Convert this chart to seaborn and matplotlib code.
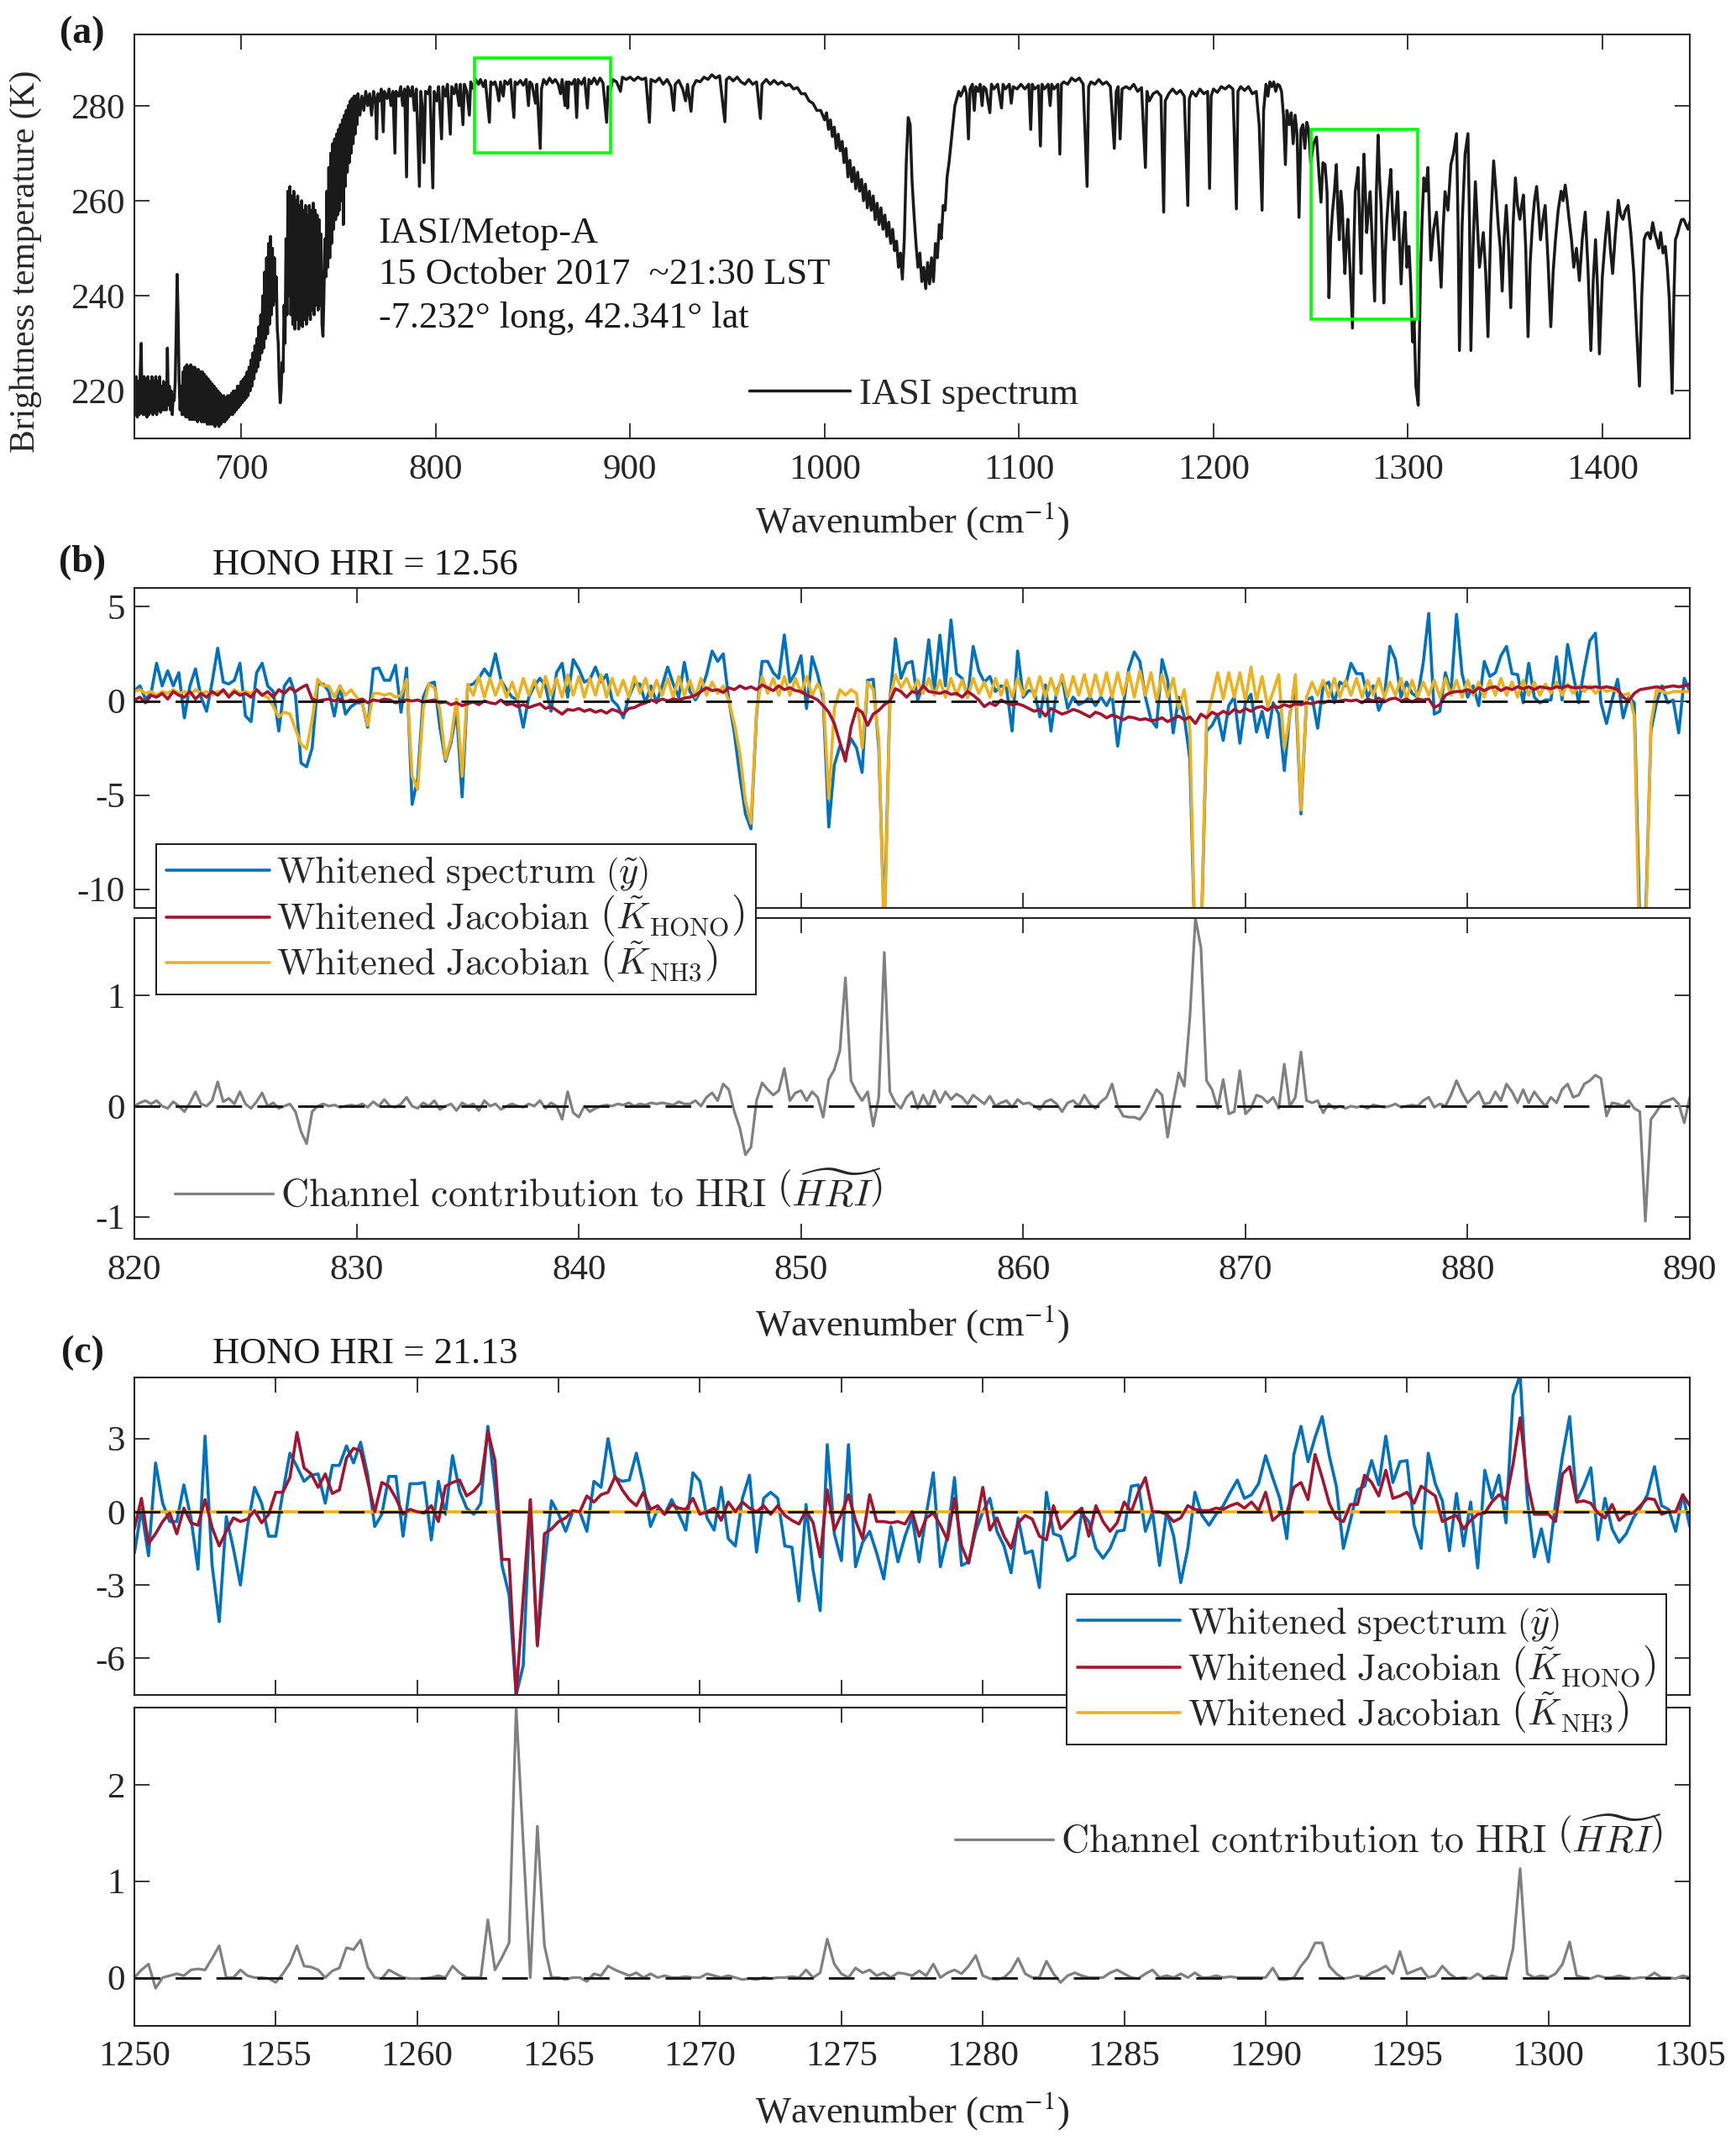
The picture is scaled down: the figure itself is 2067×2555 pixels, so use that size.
import numpy as np
import matplotlib
matplotlib.use("Agg")
import matplotlib.pyplot as plt
from matplotlib.patches import Rectangle
from matplotlib.font_manager import FontProperties
import seaborn as sns

# ---------------- panel (a): IASI brightness-temperature spectrum ----------------
# CO2 band 645-700 cm-1, 0.5 cm-1 samples
a_co2_start = 645.0
a_co2_bt = [222, 215, 223, 214.5, 222, 215, 224, 230, 216, 215, 223, 215, 222.5, 214.5, 223, 215, 222, 215.5, 223, 215,
            222, 215.5, 223, 215, 222, 216, 223, 215.5, 221, 216, 222, 216, 221, 216, 229, 217, 221, 216, 220, 215,
            219, 218, 222, 232, 244.5, 236, 222, 216, 221, 215, 224, 215, 225, 214.5, 225.5, 214.5, 225, 214, 225.5, 214,
            225, 214, 225, 214, 224.5, 213.5, 224.5, 214, 224, 213.5, 224, 213.5, 223.5, 213.5, 223, 213, 222.5, 213, 222, 213,
            221.5, 213, 221, 212.5, 220.5, 213, 220, 212.5, 219.5, 213, 219, 213.5, 219, 213.5, 218.5, 214, 219, 214.5, 219, 215,
            219.5, 215, 220, 215.5, 220, 216, 221, 216.5, 221, 217, 222]
# 700.5-760 cm-1, 0.5 cm-1 samples
a_co2b_start = 700.5
a_co2b_bt = [217.5, 222.5, 218, 223, 218.5, 224, 219, 225, 220, 226.5, 221, 228, 222.5, 229.5, 224, 231, 225, 233.5, 226.5, 236,
             228, 240, 229, 245, 231, 248, 232, 251, 234, 252.5, 236, 250, 238, 248, 239, 244, 233, 230, 222, 217.5,
             220, 226, 224, 238, 230, 252, 236, 262, 240, 263, 236, 261, 234, 262, 233, 260, 235, 261, 233, 259,
             234, 260, 233.5, 258, 235, 259, 234, 257, 236, 259, 235, 258, 237, 259.5, 236, 258, 238, 257, 237, 256,
             238, 253, 234, 231.5, 240, 252, 244, 262, 246, 267, 248, 270, 251, 272, 254, 273, 256, 274, 257, 275,
             258, 276, 260, 277, 255, 278, 263, 279, 266, 280, 268, 281, 270, 281.5, 272, 282, 274, 282, 276, 282.5]

a_win_pts = [(761, 278), (762, 282), (763, 279), (764, 283), (765, 280), (766, 282.5), (767, 278), (768, 283),
             (769, 281), (769.6, 273), (770.2, 282.5), (771, 281), (772, 283.5), (773, 274.5), (773.6, 283),
             (775, 281.5), (776, 283.5), (777, 280), (778, 283), (779, 270), (779.6, 283), (781, 282), (782, 284),
             (783, 280), (784, 283.5), (785, 265), (785.6, 284), (787, 282), (788, 284), (789, 279), (790, 283.5),
             (791.6, 263), (792.3, 283), (793, 280), (794, 268), (794.7, 283), (796, 282.5), (797, 284),
             (798.5, 262.7), (799.2, 283), (800.5, 281), (801.5, 284), (803, 273), (803.7, 284), (805, 282),
             (806, 284.5), (807.5, 274), (808.2, 284), (809.5, 282.5), (810.5, 284.5), (812, 280), (812.7, 284.5),
             (814, 276), (814.7, 284.5), (816, 283), (817.3, 278), (818, 285), (819.5, 283.5), (820.5, 285.5),
             (822, 284.5), (823, 285.5), (824.5, 284), (825.5, 285.3), (827.6, 276.5), (828.3, 285), (829.5, 284.5),
             (830.5, 285), (831.5, 283.5), (832.5, 281), (833.3, 285), (834.75, 282), (835.5, 285.2),
             (837, 284.5), (838.5, 285.5), (840.2, 277.5), (840.8, 285), (842, 284.5), (843.5, 285.3), (845, 284.3),
             (846.5, 285.5), (847.7, 280), (848.4, 285), (849.5, 284.5), (851.3, 280.5), (852, 284.5),
             (853.75, 271), (854.4, 283.5), (855.5, 285.5), (857, 284.5), (858.5, 285.8), (860, 284.8),
             (861.5, 285.5), (863, 284.5), (864.2, 282.5), (865, 285.5), (866.5, 280), (867.2, 285),
             (867.8, 279.5), (868.5, 285), (870, 284.5), (871.5, 285.5), (872.5, 277.5), (873.2, 285.5),
             (875, 284.5), (876.5, 285.8), (878, 279.5), (878.8, 285.5), (880, 284.6), (881.5, 285.8), (883, 284.5),
             (884.5, 285.8), (886, 284.8), (887.9, 276.5), (888.6, 284), (890, 283.5), (891, 285.5), (893, 285),
             (895, 283), (896, 286), (898, 285.5), (900, 286), (902, 285.3), (904, 286), (906, 285.5), (908, 285.8),
             (909.9, 276.5), (910.7, 285.5), (913, 285), (915, 285.8), (917, 284.5), (919, 285.5), (921, 284),
             (922.4, 279), (923.2, 284.5), (925, 285.3), (927, 283.5), (928.5, 281), (929.5, 284.5), (931.3, 278.8),
             (932.3, 284), (934, 285.3), (936, 285), (938, 286), (940, 285.5), (942, 286.5), (944, 285.8),
             (946, 286.3), (948.7, 276.6), (949.5, 285.5), (951, 286), (953, 285.2), (955, 286), (957, 285),
             (959, 284.5), (961, 285.5), (963, 284.5), (965, 285), (967, 277.3), (967.8, 284.5), (970, 285.5),
             (972, 284.5), (974, 285.3), (976, 284.5), (978, 285), (980, 284.2), (982, 284.5), (984, 283.5),
             (986, 283.8), (988, 282.5), (990, 282.5), (992, 281), (994, 280.5), (996, 279), (998, 279), (1000, 277)]

a_o3_pts = [(1001, 278.5), (1002, 275), (1003, 277), (1004, 273.5), (1005, 275.5), (1006, 271), (1007, 274),
            (1008, 270.5), (1009, 272.5), (1010, 268), (1011, 271), (1012, 265), (1013, 268.5), (1014, 264),
            (1015, 267), (1016, 262.5), (1017, 266), (1018, 262), (1019, 264.5), (1020, 260), (1021, 263.5),
            (1022, 258.5), (1023, 262), (1024, 258), (1025, 261), (1026, 256), (1027, 259.5), (1028, 255),
            (1029, 258.5), (1030, 254), (1031, 257), (1032, 252.5), (1033, 255.5), (1034, 251), (1035, 254),
            (1036, 249.5), (1037, 251.5), (1038, 246), (1039, 249), (1040, 243.5), (1041, 252), (1042, 268),
            (1043, 277.5), (1044, 276), (1045, 264), (1046, 257), (1047, 251), (1048, 246), (1049, 249),
            (1050, 243), (1051, 246), (1052, 241.5), (1053, 247), (1054, 242.5), (1055, 248), (1056, 243),
            (1057, 251), (1058, 248), (1059, 255), (1060, 252), (1061, 259), (1062, 258), (1063, 265),
            (1064, 268), (1065, 272), (1066, 276), (1067, 280), (1068, 281.5), (1069, 283), (1070, 282)]

a_win2_pts = [(1072, 284), (1073, 282.5), (1074, 273), (1074.8, 283.5), (1076, 284.5), (1077, 279), (1077.8, 284),
              (1079, 283), (1080, 284.5), (1081, 280), (1081.8, 284), (1083, 283.5), (1085, 278.5), (1085.8, 284.5),
              (1087, 283.5), (1089, 284.5), (1091, 279.5), (1091.8, 284.5), (1093, 283.5), (1095, 284.5),
              (1096, 280.5), (1097, 284), (1099, 283.5), (1101, 284.5), (1103, 283.5), (1105, 284.5), (1106, 275),
              (1106.8, 284.5), (1108, 283.5), (1110, 284.2), (1111, 271.5), (1111.8, 284.5), (1113, 283.5),
              (1115, 284.5), (1116, 280), (1116.8, 284.5), (1118, 283.5), (1120, 284.5), (1121, 269.8),
              (1121.8, 284.5), (1123, 285), (1125, 284.5), (1127, 285.8), (1129, 285.2), (1131, 285.8),
              (1133, 284.5), (1135, 263), (1135.8, 284), (1137, 285), (1139, 284.5), (1141, 285.5), (1143, 284.5),
              (1145, 285), (1147, 284), (1149, 271), (1150, 283), (1151, 284), (1152, 273), (1153, 283.5),
              (1155, 284), (1157, 283.5), (1159, 284.5), (1161, 283), (1163, 283.8), (1165, 267), (1165.8, 283),
              (1167, 281), (1169, 282.5), (1171, 283), (1173, 282), (1174.4, 257.6), (1175.2, 281), (1177, 282.5),
              (1179, 283.5), (1181, 282.5), (1183, 283.2), (1185, 282), (1186.8, 259), (1187.6, 281.5),
              (1189, 283), (1191, 282), (1193, 283.5), (1195, 282.5), (1197, 283), (1198, 262.6), (1198.8, 282),
              (1200, 283.5), (1202, 282.8), (1204, 284), (1206, 283.5), (1208, 284.2), (1210, 283.5),
              (1211.8, 258.3), (1212.6, 283), (1214, 284), (1216, 283.2), (1218, 284), (1220, 282.5), (1222, 283),
              (1223.5, 276), (1225, 258), (1225.8, 279), (1227, 284.5), (1228, 282), (1229, 285), (1230, 284),
              (1231, 285), (1232, 283), (1233, 284.5), (1234, 284.2), (1235, 283), (1236, 278), (1237, 267.6),
              (1237.8, 279), (1239, 276), (1240, 278.5), (1241, 272), (1242, 278), (1243, 274), (1244, 256.5),
              (1245, 275), (1246, 276), (1247, 271), (1248, 276.5), (1249, 274.8)]

a_h2o_pts = [(1250, 268), (1251.5, 272), (1253, 273.4), (1254.2, 266), (1255.3, 259.7), (1256.3, 268),
             (1257.4, 267.6), (1258.4, 262), (1259.4, 239.6), (1260.3, 252), (1261.2, 257.6), (1262.2, 262),
             (1263.2, 267.6), (1264.0, 258), (1264.7, 251.8), (1265.5, 262), (1266.2, 259), (1267.0, 250),
             (1267.6, 244.7), (1268.4, 252), (1269.1, 256.1), (1270.3, 245), (1271.5, 233.2), (1272.2, 250),
             (1272.9, 261.9), (1273.6, 264), (1274.4, 267), (1275.1, 256), (1275.9, 244.7), (1276.6, 258),
             (1277.4, 269.8), (1278.1, 262), (1278.8, 253.3), (1279.7, 258), (1280.6, 261.9), (1281.8, 250),
             (1282.9, 238.9), (1283.8, 262), (1284.7, 273.8), (1285.4, 265), (1286.2, 259), (1286.9, 250),
             (1287.6, 238.5), (1288.4, 249), (1289.1, 255.4), (1290.2, 262), (1291.2, 266.6), (1292.0, 258),
             (1292.9, 251.8), (1293.8, 257), (1294.7, 261.9), (1295.6, 252), (1296.5, 242.5), (1297.5, 252),
             (1298.5, 257.6), (1299.5, 246), (1300.6, 250.4), (1301.5, 242), (1302.4, 230.3), (1303.2, 235),
             (1304.1, 221), (1305.3, 217), (1306.5, 244.7), (1307.3, 256), (1308.2, 264.8), (1309.2, 262),
             (1310.3, 267), (1311, 258), (1311.8, 247.5), (1313.2, 254), (1314.7, 257.6), (1316, 250),
             (1317.1, 241.8), (1318.1, 254), (1319.1, 261.9), (1320.6, 258), (1322.1, 267.6), (1323.5, 270),
             (1325, 274.1), (1325.8, 255), (1326.5, 228.5), (1327.9, 255), (1329.4, 269.8), (1330.9, 274.1),
             (1331.7, 255), (1332.4, 228.5), (1333.5, 250), (1334.7, 264), (1336.8, 246), (1338.8, 253.3),
             (1340, 245), (1341.2, 231.4), (1342.6, 255), (1344.1, 268.4), (1345.3, 262), (1346.5, 254.7),
             (1347.5, 250), (1348.5, 241), (1349.5, 252), (1350.6, 259), (1351.8, 250), (1352.9, 237.5),
             (1354.1, 255), (1355.3, 264.8), (1356.4, 259), (1357.6, 256.1), (1358.5, 259), (1359.4, 261.2),
             (1360.6, 250), (1361.8, 231.4), (1362.9, 247), (1364.1, 255.4), (1365.1, 260), (1366.2, 263),
             (1367.2, 258), (1368.2, 251.8), (1369.4, 256), (1370.6, 259), (1372, 248), (1373.5, 233.5),
             (1374.7, 245), (1375.9, 251.8), (1377.3, 258), (1378.8, 262), (1379.8, 260), (1380.9, 263.3),
             (1381.9, 260), (1382.9, 256.1), (1384.1, 252), (1385.3, 246), (1386.7, 250), (1388.2, 243.2),
             (1389.7, 252), (1391.2, 257.6), (1392.6, 246), (1394.1, 228.5), (1395.3, 243), (1396.5, 251.8),
             (1397.5, 242), (1398.5, 227.8), (1400, 244), (1401.5, 251.8), (1402.9, 257.6), (1404.1, 250),
             (1405.3, 244.7), (1406.7, 253), (1408.2, 260.1), (1409.4, 257), (1410.6, 256.1), (1411.9, 258),
             (1413.2, 259), (1414.7, 253), (1416.2, 244.7), (1417.6, 233), (1419.1, 221), (1420.3, 240),
             (1421.5, 251.8), (1422.5, 253), (1423.5, 253.3), (1424.7, 252), (1425.9, 255.4), (1427, 253),
             (1427.9, 251.8), (1429, 250), (1430, 253.3), (1431.2, 249), (1432.4, 250.4), (1433.4, 246),
             (1434.4, 239.6), (1435.9, 219.5), (1436.7, 238), (1437.6, 251.8), (1438.6, 253), (1439.7, 254.7),
             (1440.7, 256), (1441.8, 256.1), (1443, 255), (1444.1, 254), (1445, 255.5)]

a_xlim = [645, 1445]
a_ylim = [210, 295]
a_xticks = [700, 800, 900, 1000, 1100, 1200, 1300, 1400]
a_yticks = [220, 240, 260, 280]
a_box_b_bt = [270, 290]     # green box around window (b)
a_box_c_bt = [235, 275]     # green box around window (c)
a_info = ["IASI/Metop-A", "15 October 2017  ~21:30 LST", "-7.232\u00b0 long, 42.341\u00b0 lat"]

# ---------------- panel (b): 820-890 cm-1, 0.25 cm-1 channels ----------------
b_start, b_step = 820.0, 0.25
b_spec = [0.55, 0.8, 0.1, 0.4, 2.0, 0.8, 1.6, 0.8, 1.5, -0.9, 0.8, 1.7, 0.2, -0.55, 1.0, 2.8, 1.0, 0.9, 1.1, 2.0,
          -0.8, -1.1, 1.5, 2.0, 0.8, 0.5, -1.6, 0.8, 1.2, 0.3, -3.3, -3.5, -2.5, 0.9, 0.9, 0.5, -0.8, 0.8, -0.7, -0.3,
          -0.1, -0.1, -1.4, 1.7, 1.75, 1.1, 1.1, 1.9, -0.6, 1.75, -5.5, -4.1, 0.2, 0.9, 1.0, -1.4, -3.2, -2.2, -0.55, -5.1,
          0.8, 0.9, 1.2, 1.7, 1.3, 2.5, 1.1, 0.6, 0.2, 0.05, -1.4, 0.2, 0.8, 1.2, 0.8, -0.55, 1.5, 2.0, 0.2, 2.2,
          1.7, 1.0, 1.15, 1.8, 1.0, 1.4, 0.05, -0.25, -0.9, 0.2, 0.9, 0.9, -0.1, 0.8, -0.1, 0.8, 1.8, 0.9, 0.2, 2.05,
          0.5, 0.05, 0.55, 1.4, 2.65, 2.1, 2.5, 0.05, -1.7, -4.0, -6.0, -6.8, -0.7, 2.1, 2.1, 1.5, 1.2, 3.5, 1.0, 1.5,
          2.4, -0.4, 2.35, 1.4, 0.05, -6.7, -3.4, -2.4, -2.9, -2.0, -2.5, -3.8, 1.1, 1.15, -2.5, -12, 0.05, 3.3, 1.2, 2.0,
          2.1, 0.05, 0.8, 3.25, 0.5, 3.5, 0.8, 4.3, 1.45, 1.2, 0.2, 2.9, 1.6, 1.0, 1.3, 0.5, 0.8, 0.7, -1.6, 2.65,
          0.2, 0.55, 0.5, -0.85, 0.85, -1.6, 0.5, 1.2, -0.4, 0.2, -0.2, -0.05, 0.2, -0.25, 0.2, -0.25, 0.3, -2.4, -0.25, 1.7,
          2.6, 2.1, 0.2, -1.0, -1.4, 2.2, 1.1, -1.7, 0.2, -0.85, -3.1, -14, -13, -1.6, -1.3, -0.7, -2.1, -0.25, 0.2, -2.25,
          -0.1, 0.35, -1.65, -0.55, -1.95, -0.1, -0.7, -3.7, -0.7, 0.8, -6.0, 0.05, 0.2, -1.45, 0.8, 1.0, -0.1, 1.0, 0.8, 2.0,
          1.45, 1.45, 0.2, 0.8, -0.5, 0.2, 2.9, 2.2, 0.2, 1.0, 0.4, 0.2, 2.0, 4.65, -0.7, -0.55, 1.5, 0.4, 4.6, 1.45,
          0.2, 0.8, -0.25, 2.1, 1.3, 1.5, 2.4, 2.9, 1.45, 1.4, -0.1, 2.0, 0.2, -0.1, 0.05, 0.05, 2.35, 0.05, 3.0, 1.4,
          -0.1, 1.7, 3.2, 3.6, -0.1, -1.2, 0.05, 1.15, -0.9, 0.2, -0.1, -12, -12, -1.6, -0.1, 0.8, -0.1, 0.05, -1.7, 1.2,
          0.5]
b_hono = [0.05, 0.2, -0.1, 0.3, 0.2, 0.4, 0.1, 0.5, 0.3, 0.2, 0.5, 0.1, 0.4, 0.2, 0.5, 0.3, 0.6, 0.2, 0.5, 0.3,
          0.4, 0.2, 0.6, 0.3, 0.5, 0.2, 0.6, 0.4, 0.7, 0.5, 0.7, 0.85, 0.1, 0.0, 0.05, 0.1, 0.0, 0.1, -0.05, 0.05,
          0.0, 0.1, -0.1, 0.05, 0.0, 0.1, 0.05, -0.1, 0.0, 0.05, 0.0, 0.05, -0.05, 0.0, 0.05, -0.1, -0.05, -0.2, -0.1, -0.25,
          -0.15, -0.05, -0.2, 0.0, -0.1, -0.15, 0.05, -0.2, -0.15, -0.3, -0.2, -0.35, -0.25, -0.15, -0.4, -0.3, -0.5, -0.7, -0.45, -0.5,
          -0.4, -0.55, -0.45, -0.6, -0.5, -0.65, -0.45, -0.55, -0.7, -0.4, -0.35, -0.2, -0.1, 0.05, -0.05, 0.1, 0.0, 0.1, 0.05, 0.15,
          0.2, 0.3, 0.5, 0.7, 0.55, 0.6, 0.45, 0.7, 0.6, 0.8, 0.65, 0.75, 0.6, 0.85, 0.7, 0.55, 0.8, 0.6, 0.7, 0.55,
          0.5, 0.3, 0.2, 0.05, -0.25, -0.6, -1.2, -2.2, -3.2, -1.4, -0.4, -0.6, -1.3, -0.7, -0.5, -0.2, 0.0, 0.65, 0.5, 0.2,
          0.5, 0.4, 0.8, 0.5, 0.45, 0.4, 0.5, 0.35, 0.4, 0.2, 0.5, 0.3, 0.05, -0.3, -0.1, -0.25, 0.05, -0.1, -0.2, -0.15,
          -0.25, -0.4, -0.55, -0.45, -0.8, -0.4, -0.55, -0.7, -0.6, -0.45, -0.55, -0.7, -0.85, -0.6, -0.7, -0.9, -0.75, -0.85, -1.0, -0.85,
          -0.9, -1.0, -0.95, -1.05, -1.0, -0.9, -1.1, -0.95, -0.8, -1.0, -0.85, -1.2, -0.7, -0.9, -0.6, -0.75, -0.55, -0.7, -0.45, -0.6,
          -0.4, -0.55, -0.35, -0.3, -0.5, -0.25, -0.35, -0.2, -0.3, -0.15, -0.2, -0.1, -0.15, -0.05, -0.1, 0.0, -0.05, 0.0, 0.05, 0.0,
          0.05, -0.1, 0.1, 0.0, 0.15, -0.05, 0.1, 0.15, 0.0, 0.1, -0.05, 0.1, 0.05, 0.1, -0.35, -0.2, 0.3, 0.45, 0.5, 0.5,
          0.6, 0.45, 0.7, 0.55, 0.7, 0.75, 0.55, 0.7, 0.6, 0.75, 0.65, 0.75, 0.6, 0.75, 0.7, 0.65, 0.75, 0.7, 0.8, 0.7,
          0.7, 0.75, 0.7, 0.75, 0.7, 0.75, 0.7, 0.6, 0.2, 0.0, 0.4, 0.6, 0.65, 0.7, 0.75, 0.7, 0.75, 0.8, 0.75, 0.8,
          0.9]
b_nh3 = [0.5, 0.6, 0.4, 0.5, 0.3, 0.5, 0.4, 0.6, 0.4, 0.5, 0.3, 0.6, 0.4, 0.5, 0.3, 0.5, 0.5, 0.3, 0.6, 0.4,
         0.5, 0.4, 0.6, 0.3, 0.2, -0.3, -0.85, -0.6, -0.7, -1.5, -2.3, -2.55, -1.0, 1.15, 0.8, 0.8, 0.2, 0.8, 0.3, 0.6,
         0.2, -0.1, -1.3, 0.4, 0.4, 0.3, 0.4, 0.2, 0.3, 1.15, -4.0, -4.7, -0.4, 0.9, 0.7, -0.5, -3.1, -2.0, 0.1, -4.0,
         0.9, 0.3, 1.3, 0.2, 1.2, 0.3, 1.1, 0.2, 1.0, 0.1, 1.2, 0.3, 1.1, 0.2, 1.3, 0.3, 1.2, 0.2, 1.4, 0.3,
         1.3, 0.2, 1.2, 0.3, 1.4, 0.2, 1.2, 0.3, 1.1, 0.2, 1.3, 0.4, 1.2, 0.2, 1.1, 0.3, 1.2, 0.2, 1.3, 0.3,
         1.1, 0.2, 1.2, 0.3, 1.0, 0.4, 0.8, 0.0, -1.2, -2.8, -5.3, -6.5, -0.5, 1.3, 0.4, 1.2, 0.3, 1.3, 0.3, 1.2,
         0.4, 1.3, 0.3, 0.9, 0.4, -5.2, -0.4, 0.6, 0.3, 0.6, 0.4, -2.5, 1.0, 0.6, -2.0, -13, 0.1, 1.4, 0.7, 1.2,
         0.5, 1.1, 0.4, 1.2, 0.3, 1.1, 0.2, 1.2, 0.3, 1.1, 0.2, 1.2, 0.4, 1.0, 0.2, 1.2, 0.3, 1.1, 0.2, 1.2,
         0.3, 1.2, 0.2, 1.3, 0.2, 1.2, 0.3, 1.4, 0.2, 1.3, 0.3, 1.4, 0.2, 1.4, 0.3, 1.5, 0.2, 1.5, 0.3, 1.5,
         0.2, 1.6, 0.3, 1.5, 0.0, 1.4, 0.2, 1.2, -0.4, 0.6, -1.5, -14, -13, -1.0, 0.2, 1.5, 0.1, 1.5, 0.2, 1.5,
         0.0, 1.8, 0.0, 1.3, -0.3, 0.5, 1.4, -2.5, -0.8, 1.4, -5.8, 0.2, 1.0, 0.3, 1.1, 0.2, 1.2, 0.2, 1.1, 0.3,
         1.2, 0.2, 1.1, 0.3, 1.2, 0.2, 1.0, 0.3, 1.2, 0.1, 1.1, 0.2, 1.0, 0.3, 1.1, 0.2, 1.2, 0.3, 1.1, 0.2,
         1.1, 0.3, 1.0, 0.2, 1.1, 0.3, 1.2, 0.3, 1.0, 0.2, 1.1, 0.3, 1.0, 0.3, 0.9, 0.4, 1.0, 0.3, 0.9, 0.4,
         0.8, 0.5, 0.8, 0.4, 0.7, 0.5, 0.6, 0.5, 0.3, 0.4, -0.8, -14, -13, -1.2, 0.6, 0.5, 0.4, 0.5, 0.5, 0.5,
         0.5]
b_hri = [0.0, 0.03, 0.05, 0.02, 0.05, 0.0, -0.02, 0.04, 0.0, -0.05, 0.03, 0.13, 0.02, 0.0, 0.05, 0.22, 0.04, 0.07, 0.02, 0.13,
         0.02, -0.02, 0.04, 0.12, 0.0, 0.03, -0.02, 0.0, 0.02, -0.05, -0.23, -0.34, -0.05, 0.0, 0.02, 0.0, 0.01, -0.01, 0.0, 0.01,
         0.0, 0.02, -0.01, 0.04, 0.0, 0.06, 0.0, -0.01, 0.02, 0.08, 0.0, -0.02, 0.03, 0.0, 0.05, -0.03, 0.0, 0.02, -0.04, 0.03,
         0.0, 0.02, -0.04, 0.05, 0.0, 0.02, -0.03, 0.0, 0.02, 0.0, -0.01, 0.02, 0.0, 0.05, -0.02, 0.03, 0.0, -0.12, 0.13, -0.06,
         -0.1, 0.0, -0.05, -0.02, 0.0, 0.01, 0.0, 0.02, 0.01, 0.03, 0.0, 0.02, 0.01, 0.03, 0.02, 0.03, 0.02, 0.01, 0.04, 0.02,
         0.02, 0.05, 0.0, 0.08, 0.12, 0.05, 0.2, 0.15, -0.05, -0.2, -0.44, -0.37, 0.05, 0.21, 0.15, 0.1, 0.14, 0.34, 0.05, 0.12,
         0.14, 0.05, 0.13, 0.08, -0.1, 0.24, 0.33, 0.5, 1.16, 0.23, 0.13, 0.05, 0.13, -0.18, 0.08, 1.39, 0.13, 0.03, -0.02, 0.08,
         0.13, -0.02, 0.1, 0.0, 0.14, 0.03, 0.13, 0.06, 0.11, 0.08, 0.02, 0.1, 0.06, 0.02, 0.09, 0.0, 0.03, 0.05, -0.01, 0.06,
         0.02, 0.03, 0.0, -0.03, 0.04, 0.06, 0.02, -0.05, 0.03, 0.05, 0.0, 0.1, 0.02, -0.02, 0.04, 0.08, 0.2, 0.0, -0.09, -0.1,
         -0.1, -0.12, -0.05, 0.05, 0.15, 0.1, -0.28, 0.03, 0.3, 0.18, 0.8, 1.7, 1.43, 0.23, 0.15, -0.02, 0.24, -0.07, -0.05, 0.32,
         -0.07, -0.02, 0.1, 0.08, 0.03, 0.08, -0.02, 0.38, 0.0, 0.08, 0.49, 0.05, 0.03, 0.05, -0.06, 0.02, -0.02, 0.0, -0.02, 0.0,
         -0.01, 0.0, -0.02, 0.01, 0.0, -0.01, 0.0, 0.02, -0.01, 0.0, 0.01, 0.0, 0.05, 0.08, -0.01, 0.02, 0.0, 0.1, 0.23, 0.12,
         0.03, 0.08, 0.13, 0.02, 0.03, 0.13, 0.05, 0.2, 0.13, 0.03, 0.15, 0.03, 0.13, 0.06, 0.0, 0.08, 0.03, 0.15, 0.2, 0.08,
         0.1, 0.2, 0.23, 0.28, 0.25, -0.09, 0.03, 0.02, 0.0, 0.05, -0.02, -0.05, -1.04, -0.12, -0.05, 0.03, 0.05, 0.07, 0.02, -0.15,
         0.08]
b_xlim = [820, 890]
b_ylim_top = [-11, 6]
b_ylim_bot = [-1.2, 1.7]
b_xticks = [820, 830, 840, 850, 860, 870, 880, 890]
b_yticks_top = [-10, -5, 0, 5]
b_yticks_bot = [-1, 0, 1]
b_hri_value = "12.56"

# ---------------- panel (c): 1250-1305 cm-1 ----------------
c_start, c_step = 1250.0, 0.25
c_spec = [-1.7, 0.1, -1.8, 2.0, 0.35, -0.4, -0.4, 1.1, -0.25, -2.35, 3.1, -2.2, -4.5, -0.2, -1.5, -3.0, -0.6, 1.0, 0.35, -1.0,
          -1.0, 0.8, 2.4, 1.85, 1.25, 1.5, 1.55, 0.35, 1.9, 1.9, 2.7, 2.0, 2.85, 1.5, -0.6, -0.1, 1.45, 1.45, -1.0, 1.15,
          1.15, 1.2, -1.15, 1.25, -0.1, 2.3, 0.85, 0.15, -0.1, 0.35, 3.5, 1.0, -2.2, -3.4, -7.5, -6.3, 0.45, -5.5, -2.2, 0.45,
          -0.1, -0.8, 0.0, 0.0, -0.8, 1.25, 1.0, 3.0, 1.4, 1.25, 1.3, 2.4, 1.1, -0.6, 0.1, -0.1, 0.5, -0.1, -0.75, 1.6,
          1.25, -0.25, -0.75, 1.0, -1.1, -1.4, 0.55, 1.5, -1.65, 0.55, 0.8, 0.55, -1.4, -1.45, -3.65, 0.3, -2.4, -4.05, 2.75, -0.9,
          -2.0, 2.75, -2.25, -1.25, -0.8, -1.7, -2.75, -0.6, -2.05, -1.0, -0.2, -2.05, -0.1, 1.6, -2.25, -1.0, 1.4, -2.2, -2.05, -0.8,
          0.0, 0.55, -0.8, -1.4, -2.5, -0.25, -1.7, -1.6, -3.1, 0.8, -0.9, -1.0, -2.0, -1.8, -0.05, -0.4, -1.5, -1.9, -1.5, -0.8,
          -0.75, 1.05, 1.1, -0.8, 0.0, -2.2, 0.0, -1.0, -2.9, -1.5, 0.8, -0.15, -0.55, -0.1, 0.25, 0.8, 1.3, 0.55, 0.7, 1.15,
          2.3, 1.4, 0.55, -1.1, 2.35, 3.5, 2.05, 3.05, 3.9, 2.3, 1.05, -1.5, -0.35, 0.9, 1.05, 2.1, 1.1, 3.1, 1.2, 2.05,
          2.1, -0.55, -1.5, 2.4, 1.15, 0.45, -1.6, 0.75, -1.4, 0.4, -2.3, 1.7, 0.55, 1.5, -0.45, 4.75, 5.6, 0.55, -1.85, -0.7,
          -2.05, 0.35, 2.3, 3.9, 0.45, 1.05, 1.8, -1.15, 0.55, -0.7, -1.25, -0.9, -0.25, 0.15, 0.7, 1.85, 0.25, 0.1, -0.8, 0.7,
          -0.6]
c_hono = [-0.7, 0.55, -1.3, -0.9, -0.4, -0.05, -0.9, 0.15, -0.45, -0.55, 0.5, -0.65, -1.4, -0.8, -0.25, -0.4, -0.3, 0.05, -0.45, -0.1,
          0.8, 0.8, 1.4, 3.25, 1.8, 1.55, 1.0, 1.55, 0.75, 0.9, 2.2, 2.6, 2.5, 1.25, 0.0, 1.2, 1.05, 0.55, -0.1, 0.1,
          0.0, -0.05, 0.25, -0.4, 1.05, 1.2, 1.3, 0.65, 0.85, 1.2, 3.3, 2.1, -1.95, -1.95, -7.5, -3.5, 0.5, -5.45, -0.9, -0.7,
          -0.4, -0.25, 0.05, 0.0, 0.65, 0.4, 0.7, 0.8, 1.45, 0.9, 0.5, 0.25, 0.8, 0.1, 0.25, -0.1, 0.3, 0.15, 0.1, 0.55,
          -0.1, 0.0, 0.15, -0.35, 0.4, 0.0, 0.4, 0.15, 0.0, 0.25, -0.1, 0.25, -0.15, -0.35, -0.5, 0.05, -0.45, -1.85, 0.9, -0.75,
          -0.1, 0.7, -0.35, -1.1, 0.7, -0.4, -0.4, -0.45, -0.4, -0.5, 0.0, -1.0, -0.25, -0.05, -0.55, -1.15, 0.55, -1.4, -2.1, -0.55,
          1.0, -0.75, -0.25, -1.0, -1.5, -0.45, -0.15, -0.3, -1.0, -1.15, 0.25, -0.7, -0.4, -0.1, 0.15, -1.0, 0.25, -0.4, -0.8, -0.45,
          0.4, 0.0, 0.8, 1.4, 0.0, 0.0, -0.1, -0.4, -0.25, 0.25, 0.1, 0.05, 0.05, 0.15, 0.1, 0.25, 0.35, 0.15, 0.4, 0.05,
          0.8, -0.35, -0.1, -0.05, 1.0, 1.2, 0.5, 2.35, 1.4, 0.35, -0.25, -0.4, 0.3, 0.3, 1.5, 1.2, 0.65, 1.7, 0.55, 0.65,
          0.8, 0.35, 1.05, 0.85, 0.65, -0.4, -0.25, -0.15, -0.7, -0.35, -0.1, -0.05, 0.4, 0.7, 0.5, 1.95, 3.85, 1.25, -0.1, -0.1,
          -0.1, -0.4, 1.55, 1.85, 0.4, 0.45, 0.35, -0.05, -0.25, 0.3, -0.35, -0.1, -0.05, 0.25, 0.55, 0.5, -0.1, 0.0, 0.0, 0.7,
          0.25]
c_nh3_level = 0.0   # NH3 Jacobian is flat at zero in this window
c_hri = [0.0, 0.08, 0.14, -0.11, 0.0, 0.02, 0.04, 0.02, 0.08, 0.09, 0.08, 0.2, 0.33, 0.0, 0.0, 0.08, 0.02, 0.0, 0.0, -0.01,
         -0.05, 0.04, 0.15, 0.33, 0.12, 0.11, 0.08, 0.0, 0.07, 0.1, 0.31, 0.29, 0.39, 0.11, 0.0, -0.01, 0.08, 0.04, 0.0, -0.01,
         -0.01, -0.01, 0.0, 0.02, 0.0, 0.12, 0.05, 0.0, 0.0, 0.0, 0.6, 0.08, 0.21, 0.36, 2.8, 1.4, 0.0, 1.57, 0.33, 0.0,
         0.0, -0.02, 0.0, 0.0, -0.04, 0.04, 0.02, 0.12, 0.08, 0.05, 0.02, 0.05, 0.0, 0.04, 0.0, 0.02, 0.0, 0.0, 0.01, 0.0,
         0.0, 0.04, 0.02, 0.0, 0.02, 0.0, -0.02, -0.01, -0.02, 0.0, -0.01, 0.0, 0.0, 0.01, 0.0, 0.08, 0.0, 0.05, 0.4, 0.14,
         0.04, 0.0, 0.1, 0.05, 0.08, 0.02, 0.05, 0.0, 0.05, 0.04, 0.02, 0.07, 0.02, 0.14, 0.0, 0.05, 0.08, 0.04, 0.12, 0.23,
         0.02, -0.01, -0.02, 0.0, 0.07, 0.2, 0.04, 0.0, 0.0, 0.17, 0.04, -0.05, 0.02, 0.05, 0.02, 0.0, 0.0, 0.0, 0.05, 0.08,
         0.04, 0.0, -0.01, 0.04, 0.08, 0.0, 0.02, 0.0, 0.04, 0.0, 0.05, 0.0, 0.0, 0.02, 0.0, 0.01, 0.0, 0.0, 0.0, 0.0,
         0.0, 0.1, -0.02, -0.02, 0.0, 0.12, 0.21, 0.36, 0.36, 0.12, 0.04, -0.01, 0.0, 0.02, 0.0, 0.05, 0.08, 0.12, 0.04, 0.27,
         0.04, 0.07, 0.1, 0.0, 0.02, 0.12, 0.04, -0.01, 0.0, -0.01, 0.04, -0.01, 0.02, 0.0, 0.0, 0.3, 1.13, 0.04, 0.0, 0.02,
         0.0, 0.04, 0.14, 0.37, 0.02, 0.0, -0.01, 0.02, 0.0, 0.0, 0.02, 0.0, -0.01, 0.0, 0.0, 0.05, 0.0, 0.0, -0.01, 0.02,
         0.0]
c_xlim = [1250, 1305]
c_ylim_top = [-7.5, 5.5]
c_ylim_bot = [-0.5, 2.8]
c_xticks = [1250, 1255, 1260, 1265, 1270, 1275, 1280, 1285, 1290, 1295, 1300, 1305]
c_yticks_top = [-6, -3, 0, 3]
c_yticks_bot = [0, 1, 2]
c_hri_value = "21.13"

# ---------------- styling ----------------
BLUE, RED, YELLOW, GRAY = "#0072BD", "#A2142F", "#EDB120", "#808080"
AX = "#262626"
LW = 2.6

sns.set_theme(style="ticks")
plt.rcParams.update({
    "font.family": ["Liberation Serif", "DejaVu Serif"],
    "mathtext.fontset": "stix",
    "axes.unicode_minus": False,
    "axes.edgecolor": AX,
    "axes.linewidth": 1.5,
    "axes.labelcolor": AX,
    "xtick.color": AX, "ytick.color": AX,
    "xtick.direction": "in", "ytick.direction": "in",
    "xtick.top": True, "ytick.right": True,
    "xtick.major.size": 13, "ytick.major.size": 13,
    "xtick.major.width": 1.3, "ytick.major.width": 1.3,
    "xtick.major.pad": 13, "ytick.major.pad": 8,
    "xtick.labelsize": 31, "ytick.labelsize": 31,
    "axes.labelsize": 32,
    "lines.scale_dashes": False,
})
LEG_PROP = FontProperties(family="DejaVu Serif", size=32, math_fontfamily="cm")
HRI_PROP = FontProperties(family="DejaVu Serif", size=33, math_fontfamily="cm")

fig = plt.figure(figsize=(20.67, 25.55), dpi=100)
L, W = 0.0774, 0.896
ax_a = fig.add_axes([L, 0.7957, W, 0.1883])
ax_b1 = fig.add_axes([L, 0.5769, W, 0.1491])
ax_b2 = fig.add_axes([L, 0.4227, W, 0.1495])
ax_c1 = fig.add_axes([L, 0.2102, W, 0.1479])
ax_c2 = fig.add_axes([L, 0.0560, W, 0.1483])
ax_b1.set_zorder(3)
ax_c1.set_zorder(3)


def line(ax, x, y, color, lw=LW, z=2):
    sns.lineplot(x=x, y=y, ax=ax, color=color, linewidth=lw, estimator=None,
                 sort=False, legend=False, zorder=z)
    return ax.get_lines()[-1]


def zero(ax):
    ax.axhline(0, color="k", lw=2.2, dashes=(22, 13), zorder=5)


xlabel = r"Wavenumber (cm$^{-1}$)"

# ---- (a)
a_wn = list(a_co2_start + 0.5 * np.arange(len(a_co2_bt))) + list(a_co2b_start + 0.5 * np.arange(len(a_co2b_bt)))
a_bt = list(a_co2_bt) + list(a_co2b_bt)
for seg in (a_win_pts, a_o3_pts, a_win2_pts, a_h2o_pts):
    a_wn += [p[0] for p in seg]
    a_bt += [p[1] for p in seg]
la = line(ax_a, np.array(a_wn, float), np.array(a_bt, float), "k", lw=2.5)
ax_a.set_xlim(a_xlim)
ax_a.set_ylim(a_ylim)
ax_a.set_xticks(a_xticks)
ax_a.set_yticks(a_yticks)
ax_a.set_xlabel(xlabel, labelpad=12)
ax_a.set_ylabel("Brightness temperature (K)", fontsize=30)
ax_a.yaxis.set_label_coords(-0.0594, 0.437)
for xr, yr in ((b_xlim, a_box_b_bt), (c_xlim, a_box_c_bt)):
    ax_a.add_patch(Rectangle((xr[0], yr[0]), xr[1] - xr[0], yr[1] - yr[0], fill=False,
                             edgecolor="#00FF00", lw=2.6, zorder=4))
for t, yy in zip(a_info, (0.508, 0.405, 0.298)):
    ax_a.text(0.157, yy, t, transform=ax_a.transAxes, fontsize=32, va="center", ha="left", color="k")
ax_a.legend([la], ["IASI spectrum"], loc="center right", bbox_to_anchor=(0.607, 0.109),
            frameon=False, borderaxespad=0, borderpad=0, handlelength=2.7, handletextpad=0.25, fontsize=32)


def window(ax_t, ax_b, start, step, spec, hono, nh3, hri, xlim, ylt, ylb, xt, ytt, ytb):
    lb = line(ax_t, start + step * np.arange(len(spec)), np.array(spec, float), BLUE)
    ly = line(ax_t, start + step * np.arange(len(nh3)), np.array(nh3, float), YELLOW)
    lr = line(ax_t, start + step * np.arange(len(hono)), np.array(hono, float), RED)
    zero(ax_t)
    lg = line(ax_b, start + step * np.arange(len(hri)), np.array(hri, float), GRAY, lw=2.3)
    zero(ax_b)
    for ax in (ax_t, ax_b):
        ax.set_xlim(xlim)
        ax.set_xticks(xt)
    ax_t.set_ylim(ylt)
    ax_b.set_ylim(ylb)
    ax_t.set_yticks(ytt)
    ax_b.set_yticks(ytb)
    ax_t.tick_params(labelbottom=False)
    ax_b.set_xlabel(xlabel, labelpad=14)
    return lb, lr, ly, lg


leg_labels = [r"$\mathrm{Whitened\ spectrum}\ \left(\tilde{y}\right)$",
              r"$\mathrm{Whitened\ Jacobian}\ \left(\tilde{K}_{\mathrm{HONO}}\right)$",
              r"$\mathrm{Whitened\ Jacobian}\ \left(\tilde{K}_{\mathrm{NH3}}\right)$"]
hri_label = r"$\mathrm{Channel\ contribution\ to\ HRI}\ \left(\widetilde{HRI}\right)$"

# ---- (b)
lb, lr, ly, lg = window(ax_b1, ax_b2, b_start, b_step, b_spec, b_hono, b_nh3, b_hri,
                        b_xlim, b_ylim_top, b_ylim_bot, b_xticks, b_yticks_top, b_yticks_bot)
leg = ax_b1.legend([lb, lr, ly], leg_labels, loc="upper left", bbox_to_anchor=(0.014, 0.2),
                   frameon=True, fancybox=False, framealpha=1, edgecolor="k", borderaxespad=0,
                   handlelength=2.75, handletextpad=0.2, labelspacing=0.0, borderpad=0.28, prop=LEG_PROP)
leg.get_frame().set_linewidth(1.4)
ax_b2.legend([lg], [hri_label], loc="center left", bbox_to_anchor=(0.026, 0.14), frameon=False,
             borderaxespad=0, borderpad=0, handlelength=2.55, handletextpad=0.2, prop=HRI_PROP)

# ---- (c)
c_nh3 = [c_nh3_level] * len(c_spec)
lb, lr, ly, lg = window(ax_c1, ax_c2, c_start, c_step, c_spec, c_hono, c_nh3, c_hri,
                        c_xlim, c_ylim_top, c_ylim_bot, c_xticks, c_yticks_top, c_yticks_bot)
leg = ax_c1.legend([lb, lr, ly], leg_labels, loc="upper right", bbox_to_anchor=(0.985, 0.317),
                   frameon=True, fancybox=False, framealpha=1, edgecolor="k", borderaxespad=0,
                   handlelength=2.75, handletextpad=0.2, labelspacing=0.0, borderpad=0.28, prop=LEG_PROP)
leg.get_frame().set_linewidth(1.4)
ax_c2.legend([lg], [hri_label], loc="center right", bbox_to_anchor=(0.983, 0.583), frameon=False,
             borderaxespad=0, borderpad=0, handlelength=2.55, handletextpad=0.2, prop=HRI_PROP)

# ---- panel letters and HRI titles
for lab, y in (("(a)", 1 - 40 / 2555), ("(b)", 1 - 670 / 2555), ("(c)", 1 - 1611 / 2555)):
    fig.text(0.0474, y, lab, fontsize=33, fontweight="bold", ha="center", va="center", color="k")
fig.text(0.1224, 1 - 673 / 2555, "HONO HRI = " + b_hri_value, fontsize=32, va="center", ha="left", color="k")
fig.text(0.1224, 1 - 1612 / 2555, "HONO HRI = " + c_hri_value, fontsize=32, va="center", ha="left", color="k")

fig.savefig("out.png", dpi=100, facecolor="white")
